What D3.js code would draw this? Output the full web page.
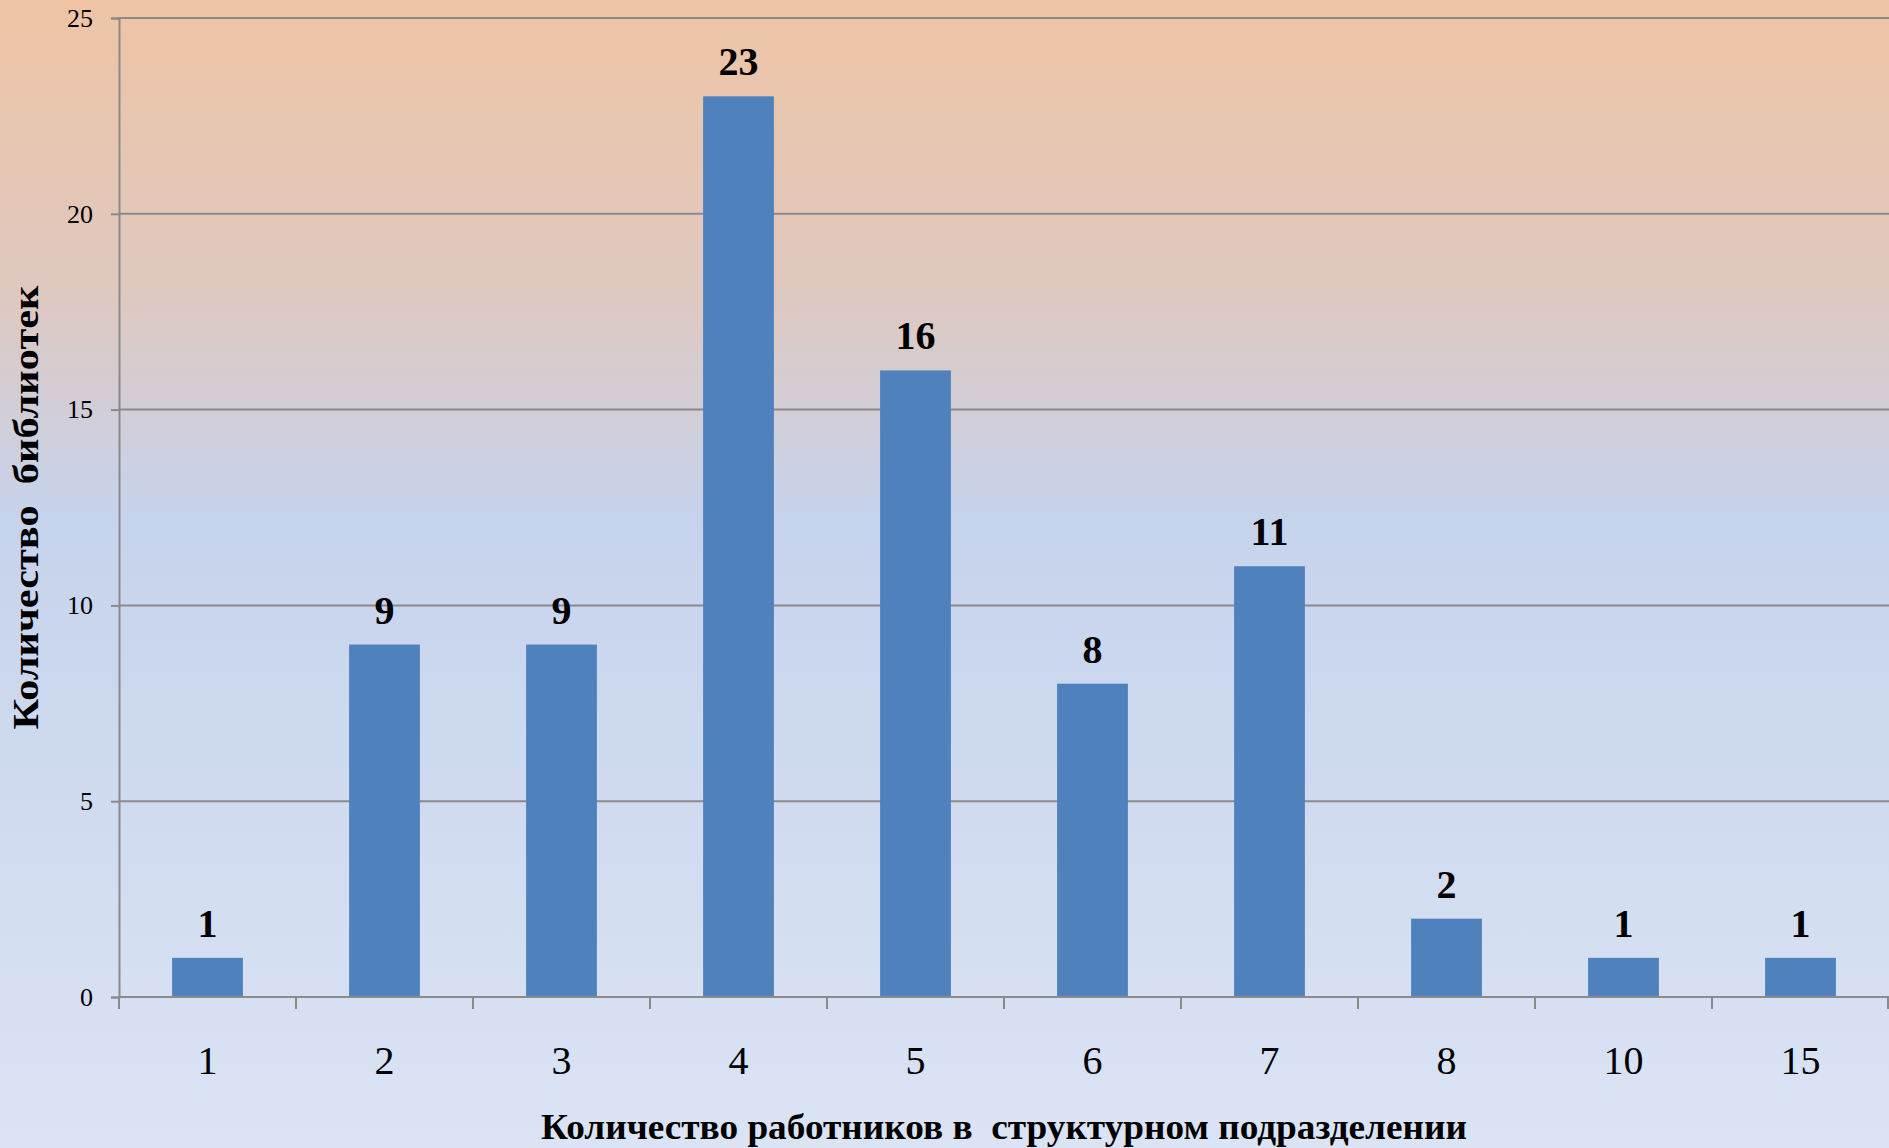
<!DOCTYPE html>
<html>
<head>
<meta charset="utf-8">
<script src="https://cdn.jsdelivr.net/npm/d3@7"></script>
<style>
    html, body { margin: 0; padding: 0; overflow: hidden; }
    svg { display: block; font-family: "Liberation Serif", "Times New Roman", serif; }
</style>
</head>
<body>
<script>
// Chart data
const categories = ["1", "2", "3", "4", "5", "6", "7", "8", "10", "15"];
const libraries  = [1, 9, 9, 23, 16, 8, 11, 2, 1, 1];
const yTicks     = [0, 5, 10, 15, 20, 25];

const xTitle = "Количество работников в  структурном подразделении";
const yTitle = "Количество  библиотек";

const width  = 1889;
const height = 1148;
const margin = {top: 18, right: 0, bottom: 151, left: 119};

const svg = d3.select("body")
    .append("svg")
    .attr("width", width)
    .attr("height", height);

// Background gradient
const grad = svg.append("defs")
    .append("linearGradient")
    .attr("id", "bg")
    .attr("x1", 0).attr("y1", 0)
    .attr("x2", 0).attr("y2", 1);

grad.append("stop").attr("offset", "0%").attr("stop-color", "#eec4a4");
grad.append("stop").attr("offset", "25%").attr("stop-color", "#dfc8bf");
grad.append("stop").attr("offset", "45%").attr("stop-color", "#c6d3ec");
grad.append("stop").attr("offset", "100%").attr("stop-color", "#dbe4f4");

svg.append("rect")
    .attr("width", width)
    .attr("height", height)
    .attr("fill", "url(#bg)");

const x = d3.scaleBand()
    .domain(categories)
    .range([margin.left, width - margin.right])
    .paddingInner(0.6)
    .paddingOuter(0.3);

const y = d3.scaleLinear()
    .domain([0, 25])
    .range([height - margin.bottom, margin.top]);

const gridColor = "#8a8a8a";

// Horizontal gridlines
svg.append("g")
    .selectAll("line")
    .data(yTicks.filter(d => d > 0))
    .join("line")
    .attr("x1", margin.left)
    .attr("x2", width - margin.right)
    .attr("y1", d => y(d))
    .attr("y2", d => y(d))
    .attr("stroke", gridColor)
    .attr("stroke-width", 2);

// Bars
svg.append("g")
    .selectAll("rect")
    .data(libraries)
    .join("rect")
    .attr("x", (d, i) => x(categories[i]))
    .attr("y", d => y(d))
    .attr("width", x.bandwidth())
    .attr("height", d => y(0) - y(d))
    .attr("fill", "#4f81bd");

// Y axis
const yAxis = svg.append("g")
    .attr("transform", `translate(${margin.left},0)`)
    .call(d3.axisLeft(y).tickValues(yTicks).tickSize(8).tickPadding(18));

yAxis.select(".domain").attr("stroke", gridColor).attr("stroke-width", 2);
yAxis.selectAll(".tick line").attr("stroke", gridColor).attr("stroke-width", 2);
yAxis.selectAll(".tick text")
    .attr("font-family", "Liberation Serif, serif")
    .attr("font-size", 26)
    .attr("fill", "#000");

// X axis (ticks between categories)
const step = x.step();
const boundaries = d3.range(categories.length + 1).map(i => margin.left + i * step);

svg.append("line")
    .attr("x1", margin.left)
    .attr("x2", width - margin.right)
    .attr("y1", y(0))
    .attr("y2", y(0))
    .attr("stroke", gridColor)
    .attr("stroke-width", 2);

svg.append("g")
    .selectAll("line")
    .data(boundaries)
    .join("line")
    .attr("x1", d => Math.min(d, width - 1))
    .attr("x2", d => Math.min(d, width - 1))
    .attr("y1", y(0))
    .attr("y2", y(0) + 12)
    .attr("stroke", gridColor)
    .attr("stroke-width", 2);

svg.append("g")
    .selectAll("text")
    .data(categories)
    .join("text")
    .attr("x", d => x(d) + x.bandwidth() / 2)
    .attr("y", 1074)
    .attr("text-anchor", "middle")
    .attr("font-size", 40)
    .attr("fill", "#000")
    .text(d => d);

// Value labels
svg.append("g")
    .selectAll("text")
    .data(libraries)
    .join("text")
    .attr("x", (d, i) => x(categories[i]) + x.bandwidth() / 2)
    .attr("y", d => y(d) - 21)
    .attr("text-anchor", "middle")
    .attr("font-size", 40)
    .attr("font-weight", "bold")
    .attr("fill", "#000")
    .text(d => d);

// Axis titles
svg.append("text")
    .attr("x", (margin.left + width - margin.right) / 2)
    .attr("y", 1139)
    .attr("text-anchor", "middle")
    .attr("font-size", 36)
    .attr("font-weight", "bold")
    .attr("textLength", 926)
    .attr("lengthAdjust", "spacingAndGlyphs")
    .attr("xml:space", "preserve")
    .style("white-space", "pre")
    .text(xTitle);

svg.append("text")
    .attr("transform", `translate(38,${(y(0) + y(25)) / 2}) rotate(-90)`)
    .attr("text-anchor", "middle")
    .attr("font-size", 36)
    .attr("font-weight", "bold")
    .attr("textLength", 444)
    .attr("lengthAdjust", "spacingAndGlyphs")
    .style("white-space", "pre")
    .text(yTitle);
</script>
</body>
</html>
